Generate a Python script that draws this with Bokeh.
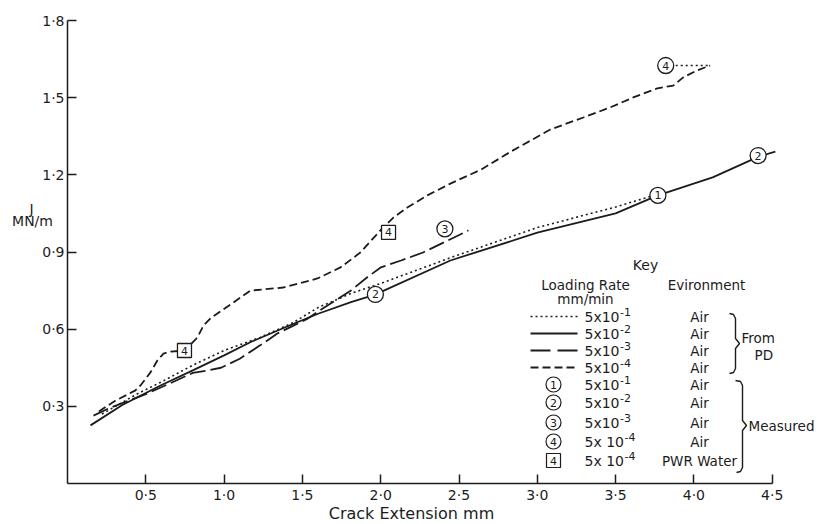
from bokeh.plotting import figure
from bokeh.models import Range1d, FixedTicker, CustomJSTickFormatter
from bokeh.core.properties import value
from bokeh.embed import file_html
from bokeh.resources import INLINE

# ---------------- data ----------------
x_ticks = [0.5, 1.0, 1.5, 2.0, 2.5, 3.0, 3.5, 4.0, 4.5]
y_ticks = [0.3, 0.6, 0.9, 1.2, 1.5, 1.8]

# From PD, 5x10^-1 mm/min (dotted)
pd1_x = [0.22, 0.45, 0.60, 0.80, 1.00, 1.23, 1.44, 1.60, 1.81, 2.02, 2.45, 3.00, 3.50, 3.77]
pd1_y = [0.27, 0.35, 0.395, 0.46, 0.517, 0.568, 0.625, 0.684, 0.739, 0.782, 0.879, 0.995, 1.075, 1.125]

# From PD, 5x10^-2 mm/min (solid)
pd2_x = [0.147, 0.35, 0.594, 0.80, 1.00, 1.17, 1.44, 1.60, 1.81, 1.97, 2.02, 2.445, 3.00, 3.50, 3.77, 4.12, 4.41, 4.52]
pd2_y = [0.226, 0.305, 0.381, 0.44, 0.498, 0.55, 0.62, 0.66, 0.705, 0.735, 0.75, 0.867, 0.975, 1.05, 1.12, 1.19, 1.27, 1.29]

# From PD, 5x10^-3 mm/min (long dash)
pd3_x = [0.166, 0.274, 0.383, 0.51, 0.657, 0.80, 0.90, 0.98, 1.10, 1.23, 1.34, 1.53, 1.68, 1.81, 1.91, 2.00, 2.13, 2.27, 2.43, 2.56]
pd3_y = [0.264, 0.295, 0.32, 0.35, 0.39, 0.43, 0.44, 0.45, 0.485, 0.537, 0.583, 0.64, 0.70, 0.75, 0.80, 0.84, 0.867, 0.898, 0.945, 0.984]

# From PD, 5x10^-4 mm/min (dashed)
pd4_x = [0.20, 0.30, 0.434, 0.466, 0.53, 0.574, 0.613, 0.66, 0.75, 0.83, 0.868, 0.913, 0.957, 1.06,
         1.168, 1.379, 1.596, 1.743, 1.87, 1.998, 2.081, 2.17, 2.298, 2.445, 2.64, 2.83, 3.083,
         3.294, 3.466, 3.613, 3.766, 3.868, 3.932, 4.021, 4.104]
pd4_y = [0.28, 0.32, 0.362, 0.381, 0.432, 0.478, 0.505, 0.513, 0.517, 0.568, 0.614, 0.642, 0.661, 0.704,
         0.75, 0.762, 0.797, 0.84, 0.898, 0.984, 1.034, 1.073, 1.12, 1.166, 1.22, 1.29, 1.376,
         1.423, 1.462, 1.501, 1.536, 1.547, 1.579, 1.606, 1.625]

# dotted link from measured point 4 to the end of the dashed curve
link4_x = [3.82, 4.104]
link4_y = [1.625, 1.625]

# Measured points (circled numbers) and PWR water (boxed 4)
meas_x = [3.77, 1.966, 4.41, 2.41, 3.82]
meas_y = [1.12, 0.735, 1.275, 0.99, 1.625]
meas_lab = ["1", "2", "2", "3", "4"]
pwr_x = [0.747, 2.05]
pwr_y = [0.517, 0.976]
pwr_lab = ["4", "4"]

# Key
key_base = ["5x10", "5x10", "5x10", "5x10", "5x10", "5x10", "5x10", "5x 10", "5x 10"]
key_exp = ["-1", "-2", "-3", "-4", "-1", "-2", "-3", "-4", "-4"]
key_env = ["Air", "Air", "Air", "Air", "Air", "Air", "Air", "Air", "PWR Water"]
key_symbols = ["1", "2", "3", "4"]

# ---------------- figure ----------------
FONT = "DejaVu Sans"
INK = "#1c1c1c"
W, H = 817, 524
XS = 156.6            # px per mm
YS = 463 / 1.8        # px per MN/m
L0, B0 = 67, 483      # page position of the data origin


def X(px):
    return (px - L0) / XS


def Y(py):
    return (B0 - py) / YS


p = figure(frame_width=W, frame_height=H, min_border=0,
           x_range=Range1d(X(0), X(W)), y_range=Range1d(Y(H), Y(0)),
           output_backend="svg", toolbar_location=None)
p.outline_line_color = None
p.grid.visible = False
p.background_fill_color = "white"
p.border_fill_color = "white"

fmt = CustomJSTickFormatter(code="return tick.toFixed(1).replace('.', '\u00b7');")
for ax, bounds, ticks in ((p.xaxis[0], (0, 4.5), x_ticks), (p.yaxis[0], (0, 1.8), y_ticks)):
    ax.fixed_location = 0
    ax.bounds = bounds
    ax.ticker = FixedTicker(ticks=ticks, minor_ticks=[])
    ax.formatter = fmt
    ax.major_tick_in = 9
    ax.major_tick_out = 0
    ax.minor_tick_in = 0
    ax.minor_tick_out = 0
    ax.axis_line_color = INK
    ax.axis_line_width = 1.5
    ax.major_tick_line_color = INK
    ax.major_tick_line_width = 1.5
    ax.major_label_text_font = FONT
    ax.major_label_text_font_size = "14px"
    ax.major_label_text_color = INK
    ax.major_label_standoff = 3

DOT = "2 3"
# curves
p.line(pd1_x, pd1_y, line_color=INK, line_width=1.6, line_dash=DOT)
p.line(pd2_x, pd2_y, line_color=INK, line_width=1.8)
p.line(pd3_x, pd3_y, line_color=INK, line_width=1.8, line_dash="16 5")
p.line(pd4_x, pd4_y, line_color=INK, line_width=1.8, line_dash="8 4")
p.line(link4_x, link4_y, line_color=INK, line_width=1.6, line_dash=DOT)

# measured markers
p.scatter(meas_x, meas_y, marker="circle", size=16, fill_color="white", line_color=INK, line_width=1.3)
p.text(meas_x, meas_y, text=meas_lab, text_align="center", text_baseline="middle",
       text_font=value(FONT), text_font_size="11px", text_color=INK)
p.scatter(pwr_x, pwr_y, marker="square", size=14, fill_color="white", line_color=INK, line_width=1.3)
p.text(pwr_x, pwr_y, text=pwr_lab, text_align="center", text_baseline="middle",
       text_font=value(FONT), text_font_size="11px", text_color=INK)

# ---------------- key ----------------
rows_py = [316, 333, 350, 367, 384, 402, 422, 441, 460]
rows_y = [Y(v) for v in rows_py]
sx0, sx1 = X(530), X(577)
KEY_FS = 14

p.text([X(645)], [Y(264)], text=["Key"], text_align="center", text_baseline="middle",
       text_font=value(FONT), text_font_size="14px", text_color=INK)
p.text([X(585), X(585), X(706)], [Y(284), Y(298), Y(284)], text=["Loading Rate", "mm/min", "Evironment"],
       text_align="center", text_baseline="middle", text_font=value(FONT), text_font_size="13.5px", text_color=INK)

p.line([sx0, sx1], [rows_y[0]] * 2, line_color=INK, line_width=1.6, line_dash=DOT)
p.line([sx0, sx1], [rows_y[1]] * 2, line_color=INK, line_width=1.8)
p.line([sx0, sx1], [rows_y[2]] * 2, line_color=INK, line_width=1.8, line_dash="20 7")
p.line([sx0, sx1], [rows_y[3]] * 2, line_color=INK, line_width=1.8, line_dash="8 4")

sym_x = [X(553)] * 4
p.scatter(sym_x, rows_y[4:8], marker="circle", size=15, fill_color="white", line_color=INK, line_width=1.2)
p.text(sym_x, rows_y[4:8], text=key_symbols, text_align="center", text_baseline="middle",
       text_font=value(FONT), text_font_size="11px", text_color=INK)
p.scatter([X(553)], [rows_y[8]], marker="square", size=14, fill_color="white", line_color=INK, line_width=1.2)
p.text([X(553)], [rows_y[8]], text=["4"], text_align="center", text_baseline="middle",
       text_font=value(FONT), text_font_size="11px", text_color=INK)

# rate texts: base "5x10" plus raised exponent
ADV = {"5": 0.636, "x": 0.592, "1": 0.636, "0": 0.636, " ": 0.318}
base_px = 584
exp_x = [X(base_px + sum(ADV[c] for c in b) * KEY_FS + 0.5) for b in key_base]
p.text([X(base_px)] * 9, rows_y, text=key_base, text_align="left", text_baseline="middle",
       text_font=value(FONT), text_font_size=f"{KEY_FS}px", text_color=INK)
p.text(exp_x, [y + 5 / YS for y in rows_y], text=key_exp, text_align="left", text_baseline="middle",
       text_font=value(FONT), text_font_size="11px", text_color=INK)
p.text([X(699)] * 9, rows_y, text=key_env, text_align="center", text_baseline="middle",
       text_font=value(FONT), text_font_size="13.5px", text_color=INK)

# braces
b1_px = [(729, 313), (733, 314), (735, 318), (735, 338), (739, 343), (735, 348), (735, 368), (733, 372), (729, 373)]
p.line([X(a) for a, b in b1_px], [Y(b) for a, b in b1_px], line_color=INK, line_width=1.4)
b2_px = [(735, 380), (740, 381), (742, 385), (742, 420), (746, 425), (742, 430), (742, 467), (740, 471), (736, 472)]
p.line([X(a) for a, b in b2_px], [Y(b) for a, b in b2_px], line_color=INK, line_width=1.4)

p.text([X(741), X(754)], [Y(337), Y(354)], text=["From", "PD"], text_align="left", text_baseline="middle",
       text_font=value(FONT), text_font_size="13.5px", text_color=INK)
p.text([X(748)], [Y(425)], text=["Measured"], text_align="left", text_baseline="middle",
       text_font=value(FONT), text_font_size="13.5px", text_color=INK)

# axis titles
p.text([X(31), X(32)], [Y(208), Y(220)], text=["J", "MN/m"], text_align="center", text_baseline="middle",
       text_font=value(FONT), text_font_size="14px", text_color=INK)
p.text([X(411)], [Y(513)], text=["Crack Extension mm"], text_align="center", text_baseline="middle",
       text_font=value(FONT), text_font_size="16px", text_color=INK)

open("out.html", "w").write(file_html(p, INLINE))
